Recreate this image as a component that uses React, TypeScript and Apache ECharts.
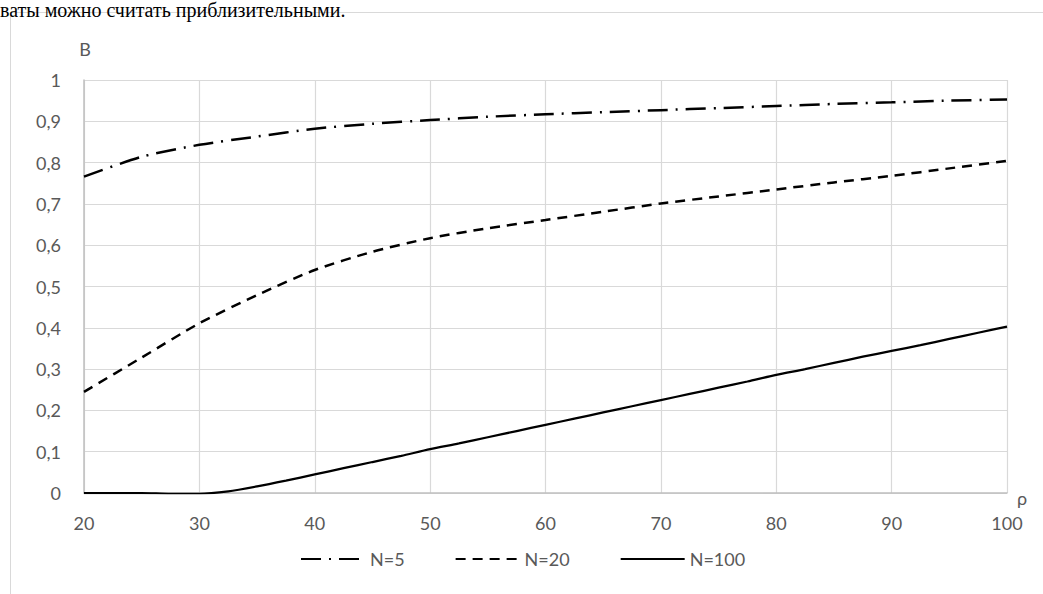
import React, { useEffect, useRef } from "react";
import * as echarts from "echarts";

const xTicks = [20, 30, 40, 50, 60, 70, 80, 90, 100];

const n5X = [20, 25, 30, 35, 40, 45, 50, 55, 60, 65, 70, 75, 80, 85, 90, 95, 100];
const n5Y = [0.766, 0.814, 0.843, 0.863, 0.882, 0.894, 0.903, 0.911, 0.917, 0.922, 0.927, 0.932, 0.937, 0.942, 0.946, 0.95, 0.953];

const n20X = [20, 25, 30, 35, 40, 45, 50, 55, 60, 65, 70, 75, 80, 85, 90, 95, 100];
const n20Y = [0.245, 0.328, 0.411, 0.479, 0.54, 0.584, 0.617, 0.641, 0.661, 0.681, 0.701, 0.718, 0.735, 0.752, 0.768, 0.786, 0.804];

const n100X = [20, 22.5, 25, 27.5, 30, 32.5, 35, 37.5, 40, 42.5, 45, 47.5, 50, 52.5, 55, 57.5, 60, 62.5, 65, 67.5, 70, 72.5, 75, 77.5, 80, 82.5, 85, 87.5, 90, 92.5, 95, 97.5, 100];
const n100Y = [0, 0, 0, -0.002, -0.002, 0.004, 0.016, 0.03, 0.045, 0.06, 0.075, 0.09, 0.106, 0.12, 0.135, 0.15, 0.165, 0.18, 0.195, 0.21, 0.225, 0.24, 0.255, 0.27, 0.286, 0.3, 0.315, 0.33, 0.344, 0.358, 0.373, 0.388, 0.403];

const seriesNames = ["N=5", "N=20", "N=100"];
const topText = "ваты можно считать приблизительными.";

const zip = (xs: number[], ys: number[]) => xs.map((x, i) => [x, ys[i]]);

const FONT = "Lato";
const GREY = "#595959";

export default function App() {
  const ref = useRef<HTMLDivElement>(null);
  useEffect(() => {
    if (!ref.current) return;
    const chart = echarts.init(ref.current, null, { renderer: "svg" });
    chart.setOption({
      animation: false,
      backgroundColor: "#ffffff",
      grid: { left: 84, right: 36, top: 80, bottom: 101, containLabel: false },
      xAxis: {
        type: "value",
        min: 20,
        max: 100,
        interval: 10,
        axisLine: { show: true, lineStyle: { color: "#bfbfbf", width: 1.5 } },
        axisTick: { show: false },
        splitLine: { show: true, lineStyle: { color: "#d9d9d9", width: 1.2 } },
        axisLabel: {
          color: GREY,
          fontFamily: FONT,
          fontSize: 18,
          margin: 21,
          customValues: xTicks,
        },
      },
      yAxis: {
        type: "value",
        min: 0,
        max: 1,
        interval: 0.1,
        axisLine: { show: true, lineStyle: { color: "#bfbfbf", width: 1.5 } },
        axisTick: { show: false },
        splitLine: { show: true, lineStyle: { color: "#d9d9d9", width: 1.2 } },
        axisLabel: {
          color: GREY,
          fontFamily: FONT,
          fontSize: 18,
          margin: 23,
          formatter: (v: number) => String(Math.round(v * 10) / 10).replace(".", ","),
        },
      },
      legend: {
        left: 295,
        top: 545,
        itemWidth: 64,
        itemHeight: 14,
        itemGap: 50,
        itemStyle: { opacity: 0, borderWidth: 0 },
        textStyle: { color: GREY, fontFamily: FONT, fontSize: 18, padding: [0, 0, 0, 0] },
        data: seriesNames,
      },
      graphic: [
        {
          type: "rect",
          shape: { x: 10.5, y: 12.5, width: 1200, height: 800 },
          style: { fill: "none", stroke: "#d9d9d9", lineWidth: 1 },
          silent: true,
          z: -1,
        },
        {
          type: "text",
          x: 0,
          y: 20,
          style: {
            text: topText,
            font: "20px 'Liberation Serif'",
            fill: "#000000",
            verticalAlign: "bottom",
          },
        },
        {
          type: "text",
          x: 85,
          y: 49,
          style: { text: "B", fill: GREY, font: `18px ${FONT}`, align: "center", verticalAlign: "middle" },
        },
        {
          type: "text",
          x: 1022,
          y: 498,
          style: { text: "ρ", fill: GREY, font: `18px ${FONT}`, align: "center", verticalAlign: "middle" },
        },
      ],
      series: [
        {
          name: seriesNames[0],
          type: "line",
          data: zip(n5X, n5Y),
          smooth: 0.25,
          symbol: "none",
          showSymbol: false,
          lineStyle: { color: "#000", width: 2.5, type: [20, 8, 2, 8], cap: "butt" },
          itemStyle: { color: "#000" },
        },
        {
          name: seriesNames[1],
          type: "line",
          data: zip(n20X, n20Y),
          smooth: 0.25,
          symbol: "none",
          showSymbol: false,
          lineStyle: { color: "#000", width: 2.5, type: [10, 7], cap: "butt" },
          itemStyle: { color: "#000" },
        },
        {
          name: seriesNames[2],
          type: "line",
          data: zip(n100X, n100Y),
          smooth: 0.25,
          symbol: "none",
          showSymbol: false,
          lineStyle: { color: "#000", width: 2.25 },
          itemStyle: { color: "#000" },
        },
      ],
    });
    return () => chart.dispose();
  }, []);
  return (
    <div
      ref={ref}
      style={{ position: "fixed", left: 0, top: 0, width: 1043, height: 594, background: "#fff" }}
    />
  );
}
